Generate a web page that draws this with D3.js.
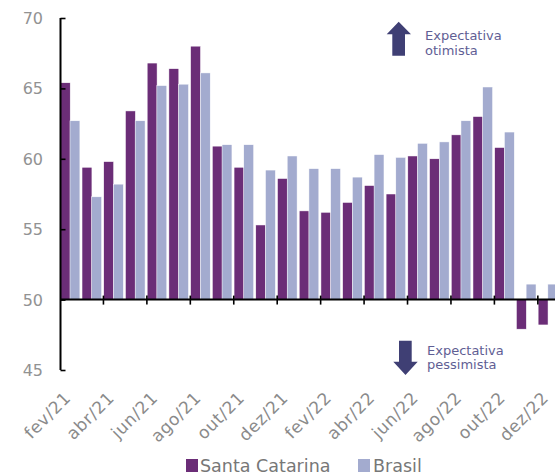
<!DOCTYPE html>
<html><head><meta charset="utf-8">
<script src="https://cdn.jsdelivr.net/npm/d3@7"></script>
<style>body{margin:0;background:#fff}svg{display:block}</style>
</head><body>
<script>
const months = ["fev/21","mar/21","abr/21","mai/21","jun/21","jul/21","ago/21","set/21","out/21","nov/21","dez/21","jan/22","fev/22","mar/22","abr/22","mai/22","jun/22","jul/22","ago/22","set/22","out/22","nov/22","dez/22"];
const santaCatarina = [65.4,59.4,59.8,63.4,66.8,66.4,68.0,60.9,59.4,55.3,58.6,56.3,56.2,56.9,58.1,57.5,60.2,60.0,61.7,63.0,60.8,47.9,48.2];
const brasil = [62.7,57.3,58.2,62.7,65.2,65.3,66.1,61.0,61.0,59.2,60.2,59.3,59.3,58.7,60.3,60.1,61.1,61.2,62.7,65.1,61.9,51.1,51.1];
const yTicks = [45,50,55,60,65,70];
const seriesNames = ["Santa Catarina","Brasil"];
const colors = ["#6b2d77","#a3abcf"];

const W=555,H=475;
const svg=d3.select("body").append("svg").attr("width",W).attr("height",H);
const font="'DejaVu Sans', sans-serif";

const x=d3.scaleBand().domain(months).range([60,60+23*21.72]).padding(0);
const y=d3.scaleLinear().domain([45,70]).range([370,18]);
const bw=x.bandwidth();
const base=y(50);

// bars
const series=[santaCatarina,brasil];
series.forEach((vals,si)=>{
  svg.append("g").selectAll("rect").data(vals).join("rect")
    .attr("x",(d,i)=>x(months[i])+0.3+si*9.7)
    .attr("width",9.9)
    .attr("y",d=>Math.min(y(d),base))
    .attr("height",d=>Math.abs(y(d)-base))
    .attr("fill",colors[si])
    .attr("stroke","#fff").attr("stroke-width",0.5);
});

// y axis
const yAxis=svg.append("g").attr("transform","translate(60.5,0)")
  .call(d3.axisRight(y).tickValues(yTicks).tickSize(5).tickFormat(""));
yAxis.select(".domain").remove();
yAxis.selectAll("line").attr("stroke","#000").attr("stroke-width",1.6);
svg.append("line").attr("x1",60.5).attr("x2",60.5).attr("y1",y(70)).attr("y2",y(45)).attr("stroke","#000").attr("stroke-width",2);
svg.append("g").selectAll("text").data(yTicks).join("text")
  .attr("x",43).attr("y",d=>y(d)+6).attr("text-anchor","end")
  .attr("font-family",font).attr("font-size",16).attr("fill","#929292").text(d=>d);

// x axis line at 50
svg.append("line").attr("x1",60).attr("x2",W).attr("y1",base).attr("y2",base).attr("stroke","#000").attr("stroke-width",2);
const boundaries=months.filter((m,i)=>i>0&&i%2===0);
svg.append("g").selectAll("line").data(boundaries).join("line")
  .attr("x1",d=>x(d)).attr("x2",d=>x(d)).attr("y1",base-4).attr("y2",base+5)
  .attr("stroke","#000").attr("stroke-width",1.6);

// x labels
const labels=months.filter((m,i)=>i%2===0);
svg.append("g").selectAll("text").data(labels).join("text")
  .attr("transform",d=>`translate(${x(d)+bw/2+1},${399}) rotate(-45)`)
  .attr("text-anchor","end").attr("font-family",font).attr("font-size",17)
  .attr("letter-spacing",0.6)
  .attr("fill","#8a8a8a").text(d=>d);

// annotations
const arrowCol="#3f3f74";
svg.append("path").attr("fill",arrowCol)
  .attr("d","M398.7,21.7 L411,34.3 L405,34.3 L405,55.7 L392.3,55.7 L392.3,34.3 L386.7,34.3 Z");
svg.append("path").attr("fill",arrowCol)
  .attr("d","M405.5,375 L417.7,361.7 L411.7,361.7 L411.7,340.7 L399,340.7 L399,361.7 L393.3,361.7 Z");
const annFont=13;
const annCol="#5f5e94";
[["Expectativa",425,40],["otimista",425,55],["Expectativa",427,355],["pessimista",427,369]].forEach(([t,tx,ty])=>{
  svg.append("text").attr("x",tx).attr("y",ty).attr("font-family",font).attr("font-size",annFont).attr("fill",annCol).text(t);
});

// legend
const leg=[[186,200],[358,373]];
seriesNames.forEach((n,i)=>{
  svg.append("rect").attr("x",leg[i][0]).attr("y",459).attr("width",12).attr("height",13).attr("fill",colors[i]);
  svg.append("text").attr("x",leg[i][1]).attr("y",472).attr("font-family",font).attr("font-size",17.5).attr("fill","#777").text(n);
});
</script>
</body></html>
